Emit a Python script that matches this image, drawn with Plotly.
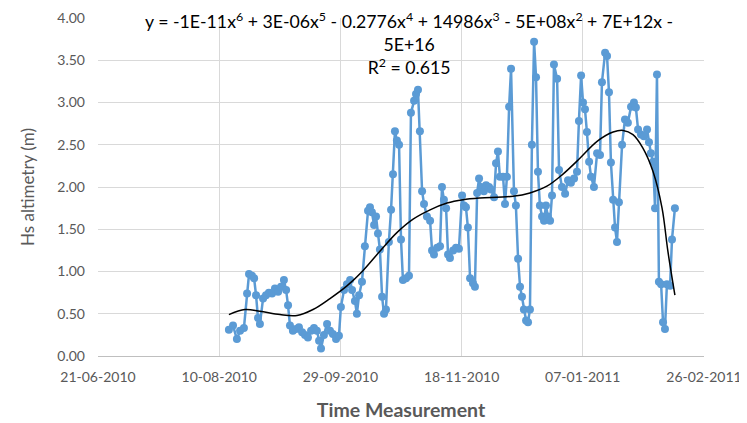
import numpy as np
import pandas as pd
import plotly.graph_objects as go

start_date = "2010-06-21"

# days since start_date for each altimetry measurement
days_since_start = [
    54.0, 55.7, 57.3, 58.6, 60.2, 61.5, 62.3, 63.5, 64.4, 65.2, 66.0, 66.8, 68.1, 69.3, 70.5,
    71.8, 73.0, 74.3, 75.5, 76.7, 77.6, 78.4, 79.2, 80.4, 81.7, 82.9, 84.2, 85.4, 86.6, 87.9,
    89.1, 90.3, 91.2, 92.0, 93.2, 94.5, 95.7, 96.9, 98.2, 99.4, 100.2, 101.5, 102.7, 104.0,
    104.8, 106.0, 106.8, 107.7, 108.9, 110.1, 111.4, 112.2, 113.0, 113.9, 114.7, 115.5, 116.3,
    117.2, 118.0, 118.8, 120.0, 120.9, 121.7, 122.5, 123.3, 124.2, 125.0, 125.8, 127.1, 128.3,
    129.1, 130.4, 131.2, 132.0, 132.8, 133.7, 134.5, 135.7, 137.0, 137.8, 138.6, 139.9, 141.1,
    141.9, 142.7, 143.6, 144.4, 145.2, 146.5, 147.7, 148.9, 150.2, 151.0, 151.8, 152.6, 153.5,
    154.7, 155.5, 156.4, 157.2, 158.0, 159.2, 160.1, 161.3, 162.1, 163.4, 164.2, 165.0, 165.8,
    167.1, 167.9, 168.7, 169.6, 170.4, 171.6, 172.4, 173.3, 174.1, 174.9, 175.7, 176.6, 177.4,
    178.2, 179.0, 179.9, 180.7, 181.5, 182.3, 183.2, 184.0, 184.8, 185.6, 186.5, 187.3, 188.1,
    189.4, 190.2, 191.4, 192.7, 193.9, 195.1, 196.4, 197.6, 198.4, 199.3, 200.1, 200.9, 201.7,
    202.6, 203.4, 204.6, 205.9, 207.1, 207.9, 209.2, 210.0, 210.8, 211.6, 212.5, 213.3, 214.1,
    214.9, 216.2, 217.4, 218.6, 219.9, 221.1, 221.9, 222.8, 224.0, 225.2, 226.5, 227.3, 228.1,
    229.0, 229.8, 230.6, 231.4, 232.3, 233.1, 233.9, 234.7, 236.0, 236.8, 238.0,
]

hs_altimetry = [
    0.31, 0.36, 0.20, 0.30, 0.33, 0.74, 0.97, 0.95, 0.92, 0.72, 0.45, 0.38, 0.68, 0.72, 0.75,
    0.74, 0.80, 0.76, 0.82, 0.90, 0.78, 0.60, 0.36, 0.30, 0.32, 0.34, 0.28, 0.25, 0.22, 0.30,
    0.33, 0.30, 0.18, 0.09, 0.25, 0.38, 0.30, 0.26, 0.20, 0.24, 0.58, 0.78, 0.85, 0.90,
    0.78, 0.65, 0.50, 0.72, 0.88, 1.30, 1.72, 1.76, 1.70, 1.55, 1.65, 1.45, 1.26,
    0.70, 0.50, 0.55, 1.35, 1.73, 2.15, 2.66, 2.55, 2.50, 1.38, 0.90, 0.92, 0.95,
    2.88, 3.02, 3.10, 3.15, 2.66, 1.95, 1.80, 1.65, 1.60, 1.25, 1.20, 1.28, 1.30,
    2.00, 1.85, 1.75, 1.20, 1.16, 1.25, 1.28, 1.27, 1.90, 1.78, 1.76, 1.52, 0.92,
    0.86, 0.82, 1.93, 2.10, 2.00, 1.95, 2.02, 2.00, 1.97, 1.88, 2.28, 2.42, 2.12,
    2.12, 1.80, 2.12, 2.95, 3.40, 1.95, 1.78, 1.15, 0.82, 0.70, 0.55, 0.42, 0.40,
    0.55, 2.50, 3.72, 3.30, 2.18, 1.78, 1.65, 1.60, 1.78, 1.65, 1.60, 1.90, 3.45,
    3.28, 2.20, 2.00, 1.92, 2.08, 2.05, 2.10, 2.18, 2.78, 3.32, 3.00, 2.92, 2.65,
    2.30, 2.12, 2.00, 2.40, 2.38, 3.24, 3.59, 3.55, 3.12, 2.29, 1.85, 1.52, 1.35,
    1.82, 2.50, 2.80, 2.76, 2.95, 3.00, 2.94, 2.68, 2.62, 2.60, 2.68, 2.53, 2.40,
    2.30, 1.75, 3.33, 0.88, 0.85, 0.40, 0.32, 0.85, 0.83, 1.38, 1.75,
]

# 6th-order polynomial trendline
trend_days = [
    54.0, 60.6, 66.8, 75.1, 82.1, 88.7, 95.7, 102.7, 109.3, 116.3, 123.3, 130.0, 137.0,
    144.0, 150.6, 157.6, 164.6, 171.2, 178.2, 185.2, 191.7, 198.8, 205.9, 212.5, 216.6,
    220.7, 224.8, 229.0, 232.7, 235.1, 238.0,
]
trend_values = [
    0.49, 0.55, 0.53, 0.49, 0.48, 0.55, 0.68, 0.83, 1.01, 1.24, 1.46, 1.62, 1.73,
    1.81, 1.85, 1.87, 1.88, 1.89, 1.93, 2.01, 2.15, 2.34, 2.54, 2.65, 2.67,
    2.62, 2.46, 2.18, 1.75, 1.24, 0.72,
]

x_range = ["2010-06-21", "2011-02-26"]
y_tick_values = [0.0, 0.5, 1.0, 1.5, 2.0, 2.5, 3.0, 3.5, 4.0]
y_tick_labels = ["0.00", "0.50", "1.00", "1.50", "2.00", "2.50", "3.00", "3.50", "4.00"]

equation_text = ("y = -1E-11x<sup>6</sup> + 3E-06x<sup>5</sup> - 0.2776x<sup>4</sup> + "
                 "14986x<sup>3</sup> - 5E+08x<sup>2</sup> + 7E+12x -<br>5E+16<br>"
                 "R<sup>2</sup> = 0.615")

base = pd.to_datetime(start_date)
dates = base + pd.to_timedelta(days_since_start, unit="D")
trend_dates = base + pd.to_timedelta(trend_days, unit="D")

FONT = "Lato"
GREY = "#595959"

fig = go.Figure()
fig.add_trace(go.Scatter(
    x=dates, y=hs_altimetry, mode="lines+markers",
    line=dict(color="#5B9BD5", width=2.5),
    marker=dict(color="#5B9BD5", size=8),
    showlegend=False, hoverinfo="skip",
))
fig.add_trace(go.Scatter(
    x=trend_dates, y=trend_values, mode="lines",
    line=dict(color="black", width=1.5, shape="spline", smoothing=1.0),
    showlegend=False, hoverinfo="skip",
))

fig.update_layout(
    width=747, height=423,
    margin=dict(l=90, r=51, t=10, b=75, autoexpand=False),
    paper_bgcolor="white", plot_bgcolor="white",
    font=dict(family=FONT, color=GREY, size=14),
)
fig.update_xaxes(
    type="date", range=x_range,
    tick0=x_range[0], dtick=50 * 86400000, tickformat="%d-%m-%Y",
    showgrid=True, gridcolor="#D9D9D9", gridwidth=1,
    showline=True, linecolor="#BFBFBF", linewidth=1,
    ticks="", ticklabelstandoff=8,
    tickfont=dict(family=FONT, size=14, color=GREY),
    title=dict(text="<b>Time Measurement</b>", font=dict(family=FONT, size=19.5, color=GREY),
               standoff=19),
    zeroline=False, automargin=False,
)
fig.update_yaxes(
    range=[0, 4.0], tickmode="array", tickvals=y_tick_values, ticktext=y_tick_labels,
    showgrid=True, gridcolor="#D9D9D9", gridwidth=1,
    showline=False, ticks="", ticklabelstandoff=12,
    tickfont=dict(family=FONT, size=14, color=GREY),
    title=dict(text="Hs altimetry (m)", font=dict(family=FONT, size=17, color=GREY),
               standoff=18),
    zeroline=False, automargin=False,
)
fig.add_annotation(
    text=equation_text, xref="paper", yref="paper", x=0.513, y=0.926,
    xanchor="center", yanchor="middle", showarrow=False, align="center",
    font=dict(family=FONT, size=17.7, color="black"),
)

fig.write_html("out.html")
